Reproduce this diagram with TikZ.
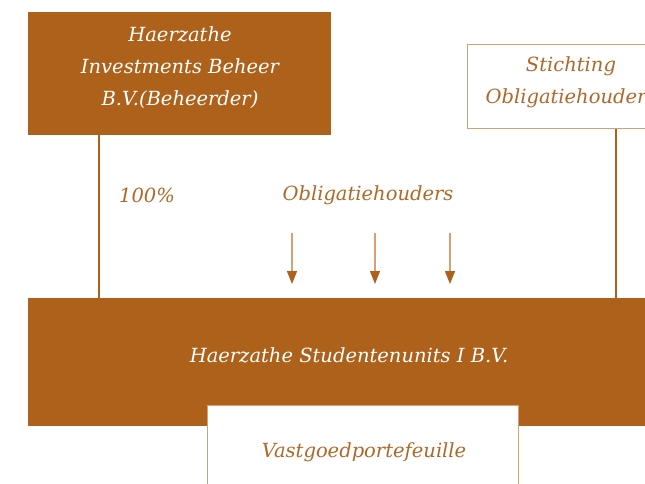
\documentclass[tikz,border=0pt]{standalone}
\usepackage{fontspec}
\setmainfont{DejaVu Serif}
\usetikzlibrary{arrows.meta}
\definecolor{hz}{RGB}{173,97,27}
\definecolor{hzlight}{RGB}{214,160,115}
\definecolor{hztext}{RGB}{176,104,40}
\tikzset{
  txt/.style={font=\fontsize{19.5}{32}\selectfont\itshape, align=center},
  darkbox/.style={fill=hz, draw=none, inner sep=0pt},
  lightbox/.style={fill=white, draw=hzlight, line width=1pt, inner sep=0pt},
  conn/.style={draw=hz, line width=2pt},
  flow/.style={draw=hzlight, line width=1.2pt, -{Triangle[length=13pt,width=10pt,fill=hz,color=hz]}},
  lbl/.style={text=hztext, txt},
  wlbl/.style={text=white, txt}
}
\begin{document}
\begin{tikzpicture}[x=1pt,y=-1pt]
\useasboundingbox (0,0) rectangle (645,484);
\clip (0,0) rectangle (645,484);
% top left box
\node[darkbox, minimum width=303pt, minimum height=123pt] (beheer) at (179.5,73.5) {};
\node[wlbl] (beheertext) at (180,68) {Haerzathe\\Investments Beheer\\B.V.(Beheerder)};
% Stichting box
\node[lightbox, minimum width=208pt, minimum height=84pt] (sticht) at (571,87) {};
\node[lbl] (stichttext) at (571,82) {Stichting\\Obligatiehouders};
% big bar
\node[darkbox, minimum width=680pt, minimum height=128pt, anchor=north west] (bar) at (28,298) {};
\node[wlbl] (bartext) at (349,355) {Haerzathe Studentenunits I B.V.};
% connectors
\draw[conn] ([xshift=71pt]beheer.south west) -- ([xshift=71pt]beheer.south west |- bar.north);
\draw[conn] ([xshift=149pt]sticht.south west) -- ([xshift=149pt]sticht.south west |- bar.north);
% labels
\node[lbl] (pct) at (147,195) {100\%};
\node[lbl] (obl) at (368,195) {Obligatiehouders};
% arrows
\coordinate (a1) at (292,233);
\coordinate (b1) at (292,284);
\coordinate (a2) at (375,233);
\coordinate (b2) at (375,284);
\coordinate (a3) at (450,233);
\coordinate (b3) at (450,284);
\draw[flow] (a1) -- (b1);
\draw[flow] (a2) -- (b2);
\draw[flow] (a3) -- (b3);
% Vastgoed box
\node[lightbox, minimum width=311pt, minimum height=110pt, anchor=north west] (vast) at (207,405) {};
\node[lbl] (vasttext) at (364,452) {Vastgoedportefeuille};
\end{tikzpicture}
\end{document}
